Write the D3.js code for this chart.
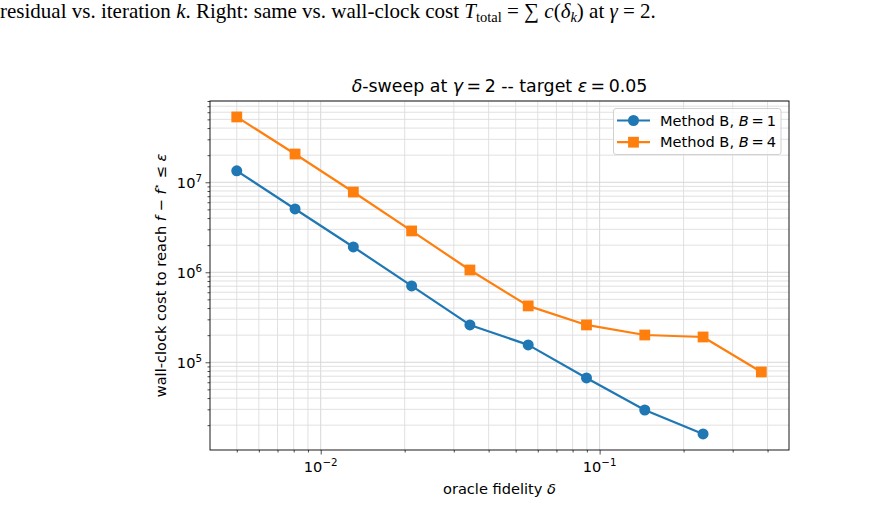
<!DOCTYPE html>
<html><head><meta charset="utf-8">
<script src="https://cdn.jsdelivr.net/npm/d3@7"></script>
<style>
html,body{margin:0;padding:0;background:#fff;}
svg{display:block;}
</style></head>
<body>
<svg id="chart" width="895" height="530"></svg>
<script>
// ---- data ----
const fidelity = [0.005, 0.00809, 0.01309, 0.02118, 0.03427, 0.05545, 0.08972, 0.14517, 0.23489, 0.38004];
const costB1 = [1.34e7, 5.05e6, 1.91e6, 7.05e5, 2.60e5, 1.56e5, 6.70e4, 2.95e4, 1.60e4];
const costB4 = [5.32e7, 2.06e7, 7.79e6, 2.88e6, 1.06e6, 4.23e5, 2.60e5, 2.01e5, 1.91e5, 7.80e4];
const seriesNames = ["Method B, ", "Method B, "];
const seriesB = ["1", "4"];
const xTickValues = [1e-2, 1e-1];
const xTickExps = ["\u22122", "\u22121"];
const yTickValues = [1e5, 1e6, 1e7];
const yTickExps = ["5", "6", "7"];
const colors = ["#1f77b4", "#ff7f0e"];

const svg = d3.select("#chart");
const L = 210, R = 789, T = 101, B = 450;
const FONT = "DejaVu Sans, sans-serif";
const FS = 14.6;

const x = d3.scaleLog().domain([0.004009, 0.4775]).range([L, R]);
const y = d3.scaleLog().domain([1.06e4, 8.0e7]).range([B, T]);

// ---- caption ----
const cap = svg.append("text").attr("x", 0).attr("y", 18)
  .attr("font-family", "Liberation Serif, Times New Roman, serif").attr("font-size", 21).attr("fill", "#000");
cap.append("tspan").text("residual vs. iteration ");
cap.append("tspan").attr("font-style", "italic").text("k");
cap.append("tspan").text(". Right: same vs. wall-clock cost ");
cap.append("tspan").attr("font-style", "italic").text("T");
cap.append("tspan").attr("font-size", 14.5).attr("dy", 3.5).text("total");
cap.append("tspan").attr("dy", -3.5).text(" = \u2211 ");
cap.append("tspan").attr("font-style", "italic").text("c");
cap.append("tspan").text("(");
cap.append("tspan").attr("font-style", "italic").text("\u03b4");
cap.append("tspan").attr("font-style", "italic").attr("font-size", 14.5).attr("dy", 3.5).text("k");
cap.append("tspan").attr("dy", -3.5).text(") at ");
cap.append("tspan").attr("font-style", "italic").text("\u03b3");
cap.append("tspan").text(" = 2.");

// ---- grid ----
const g = svg.append("g");
const xMinor = [], yMinor = [];
for (let e = -3; e <= 0; e++) for (let m = 1; m <= 9; m++) {
  const v = m * Math.pow(10, e);
  if (v >= x.domain()[0] && v <= x.domain()[1]) xMinor.push(v);
}
for (let e = 4; e <= 8; e++) for (let m = 1; m <= 9; m++) {
  const v = m * Math.pow(10, e);
  if (v >= y.domain()[0] && v <= y.domain()[1]) yMinor.push(v);
}
g.selectAll(".gx").data(xMinor).join("line")
  .attr("x1", d => x(d)).attr("x2", d => x(d)).attr("y1", T).attr("y2", B)
  .attr("stroke", d => xTickValues.includes(d) ? "#d2d2d2" : "#dedede").attr("stroke-width", 0.9);
g.selectAll(".gy").data(yMinor).join("line")
  .attr("y1", d => y(d)).attr("y2", d => y(d)).attr("x1", L).attr("x2", R)
  .attr("stroke", d => yTickValues.includes(d) ? "#d2d2d2" : "#dedede").attr("stroke-width", 0.9);

// ---- axes ----
const xAxis = d3.axisBottom(x).tickValues(xMinor).tickFormat("").tickSizeInner(2.5).tickSizeOuter(0);
const xg = svg.append("g").attr("transform", `translate(0,${B})`).call(xAxis);
xg.select(".domain").remove();
xg.selectAll(".tick line").attr("stroke", "#000").attr("stroke-width", 0.7)
  .attr("y2", d => xTickValues.includes(d) ? 4.5 : 2.5);
xTickValues.forEach((v, i) => {
  const t = svg.append("text").attr("x", x(v)).attr("y", 472).attr("text-anchor", "middle")
    .attr("font-family", FONT).attr("font-size", FS).attr("fill", "#000");
  t.append("tspan").text("10");
  t.append("tspan").attr("font-size", 10.3).attr("dy", -6.5).text(xTickExps[i]);
});

const yAxis = d3.axisLeft(y).tickValues(yMinor).tickFormat("").tickSizeInner(2.5).tickSizeOuter(0);
const yg = svg.append("g").attr("transform", `translate(${L},0)`).call(yAxis);
yg.select(".domain").remove();
yg.selectAll(".tick line").attr("stroke", "#000").attr("stroke-width", 0.7)
  .attr("x2", d => yTickValues.includes(d) ? -4.5 : -2.5);
yTickValues.forEach((v, i) => {
  const t = svg.append("text").attr("x", 202).attr("y", y(v) + 6).attr("text-anchor", "end")
    .attr("font-family", FONT).attr("font-size", FS).attr("fill", "#000");
  t.append("tspan").text("10");
  t.append("tspan").attr("font-size", 10.3).attr("dy", -6.5).text(yTickExps[i]);
});

// ---- lines ----
const series = [costB1, costB4];
series.forEach((vals, si) => {
  const pts = vals.map((v, i) => [fidelity[i], v]);
  const line = d3.line().x(d => x(d[0])).y(d => y(d[1]));
  svg.append("path").attr("d", line(pts)).attr("fill", "none")
    .attr("stroke", colors[si]).attr("stroke-width", 2.2).attr("stroke-linejoin", "round");
  if (si === 0) {
    svg.selectAll(".m0").data(pts).join("circle")
      .attr("cx", d => x(d[0])).attr("cy", d => y(d[1])).attr("r", 5.5).attr("fill", colors[si]);
  } else {
    svg.selectAll(".m1").data(pts).join("rect")
      .attr("x", d => x(d[0]) - 5.4).attr("y", d => y(d[1]) - 5.4)
      .attr("width", 10.8).attr("height", 10.8).attr("fill", colors[si]);
  }
});

// ---- frame ----
svg.append("rect").attr("x", L).attr("y", T).attr("width", R - L).attr("height", B - T)
  .attr("fill", "none").attr("stroke", "#000").attr("stroke-width", 0.9);

// ---- title ----
const tt = svg.append("text").attr("x", (L + R) / 2).attr("y", 92).attr("text-anchor", "middle")
  .attr("font-family", FONT).attr("font-size", 17.4).attr("fill", "#000");
tt.append("tspan").attr("font-style", "italic").text("\u03b4");
tt.append("tspan").text("-sweep at ");
tt.append("tspan").attr("font-style", "italic").text("\u03b3");
tt.append("tspan").text("\u2009=\u20092 -- target ");
tt.append("tspan").attr("font-style", "italic").text("\u03b5");
tt.append("tspan").text("\u2009=\u20090.05");

// ---- axis labels ----
const xl = svg.append("text").attr("x", (L + R) / 2).attr("y", 494).attr("text-anchor", "middle")
  .attr("font-family", FONT).attr("font-size", FS).attr("fill", "#000");
xl.append("tspan").text("oracle fidelity ");
xl.append("tspan").attr("font-style", "italic").text("\u03b4");

const yl = svg.append("text").attr("transform", `translate(165.5,${(T + B) / 2}) rotate(-90)`)
  .attr("text-anchor", "middle").attr("font-family", FONT).attr("font-size", FS).attr("fill", "#000");
yl.append("tspan").text("wall-clock cost to reach ");
yl.append("tspan").attr("font-style", "italic").text("f");
yl.append("tspan").text(" \u2212 ");
yl.append("tspan").attr("font-style", "italic").text("f");
yl.append("tspan").attr("font-size", 10).attr("dy", -5.5).text("\u22c6");
yl.append("tspan").attr("dy", 5.5).text(" \u2264 ");
yl.append("tspan").attr("font-style", "italic").text("\u03b5");

// ---- legend ----
const lg = svg.append("g");
lg.append("rect").attr("x", 613.5).attr("y", 108.5).attr("width", 167.5).attr("height", 46).attr("rx", 2.5)
  .attr("fill", "#fff").attr("fill-opacity", 0.8).attr("stroke", "#cccccc").attr("stroke-width", 0.9);
[0, 1].forEach(i => {
  const cy = 120.5 + i * 21.7;
  lg.append("line").attr("x1", 617).attr("x2", 650).attr("y1", cy).attr("y2", cy)
    .attr("stroke", colors[i]).attr("stroke-width", 2.2);
  if (i === 0) lg.append("circle").attr("cx", 633.5).attr("cy", cy).attr("r", 5.5).attr("fill", colors[i]);
  else lg.append("rect").attr("x", 633.5 - 5.4).attr("y", cy - 5.4).attr("width", 10.8).attr("height", 10.8).attr("fill", colors[i]);
  const t = lg.append("text").attr("x", 660).attr("y", cy + 5.2)
    .attr("font-family", FONT).attr("font-size", FS).attr("fill", "#000");
  t.append("tspan").text(seriesNames[i]);
  t.append("tspan").attr("font-style", "italic").text("B");
  t.append("tspan").text("\u2009=\u2009" + seriesB[i]);
});
</script>
</body></html>
